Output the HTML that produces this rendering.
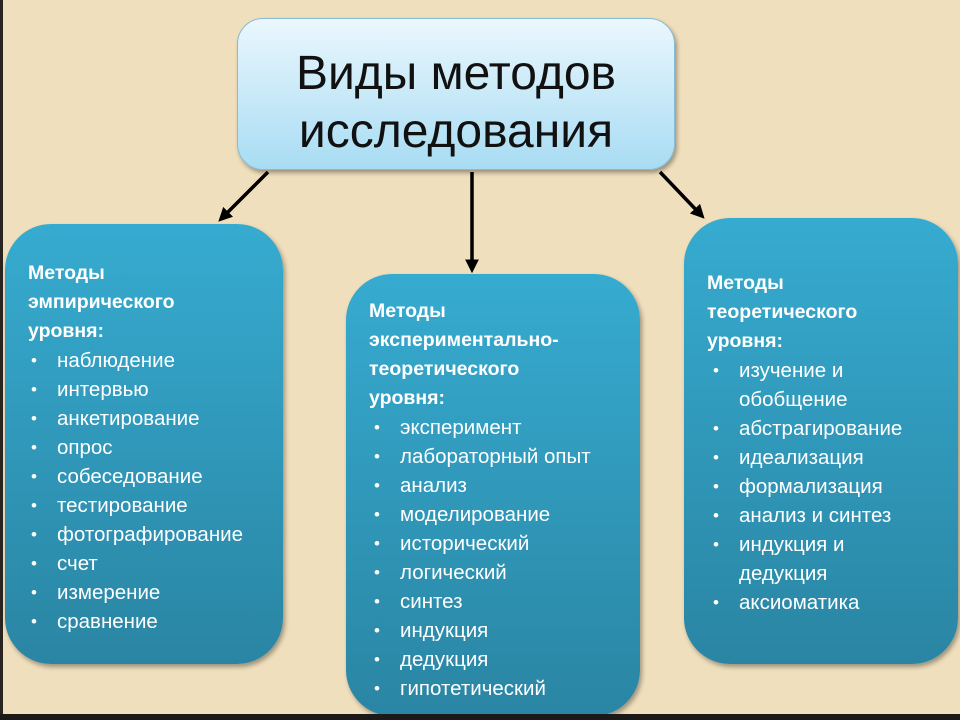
<!DOCTYPE html>
<html><head><meta charset="utf-8"><style>
body{margin:0;width:960px;height:720px;overflow:hidden;background:#f0dfbc;position:relative;font-family:"Liberation Sans","DejaVu Sans",sans-serif}
.edgeL{position:absolute;left:0;top:0;width:3px;height:720px;background:#2a2420}
.edgeB{position:absolute;left:0;top:714px;width:960px;height:6px;background:#1c1a18}
.title{position:absolute;left:237px;top:18px;width:438px;height:152px;border:1px solid #86bcd6;border-radius:26px;background:linear-gradient(#eaf7fd,#a8dcf3);box-shadow:2px 3px 4px rgba(0,0,0,.35);text-align:center;font-size:48px;line-height:58px;color:#111;box-sizing:border-box;padding-top:26px}
.box{position:absolute;border-radius:46px;background:linear-gradient(#36abd0,#2a85a3);box-shadow:2px 3px 5px rgba(0,0,0,.35);color:#fff;font-size:20.5px;line-height:29px}
.box b{display:block;font-size:19.5px}
.box ul{margin:0;padding:0;list-style:none}
.box li{position:relative}
.box li:before{content:"•";position:absolute;left:-26px;font-size:17px}
</style></head><body>
<div class="edgeL"></div>
<div class="title">Виды методов<br>исследования</div>
<svg width="960" height="720" style="position:absolute;left:0;top:0">
<defs><marker id="a" markerWidth="4" markerHeight="4" refX="2.5" refY="2" orient="auto"><path d="M0,0L4,2L0,4z" fill="#000"/></marker></defs>
<g stroke="#000" stroke-width="3.5" marker-end="url(#a)">
<line x1="268" y1="172" x2="222" y2="218"/>
<line x1="472" y1="172" x2="472" y2="268"/>
<line x1="660" y1="172" x2="701" y2="215"/>
</g></svg>
<div class="box" style="left:5px;top:224px;width:278px;height:440px">
<div style="position:absolute;left:23px;top:35px"><b>Методы<br>эмпирического<br>уровня:</b>
<ul style="margin-left:29px"><li>наблюдение</li><li>интервью</li><li>анкетирование</li><li>опрос</li><li>собеседование</li><li>тестирование</li><li>фотографирование</li><li>счет</li><li>измерение</li><li>сравнение</li></ul></div></div>
<div class="box" style="left:346px;top:274px;width:294px;height:442px">
<div style="position:absolute;left:23px;top:23px"><b>Методы<br>экспериментально-<br>теоретического<br>уровня:</b>
<ul style="margin-left:31px"><li>эксперимент</li><li>лабораторный опыт</li><li>анализ</li><li>моделирование</li><li>исторический</li><li>логический</li><li>синтез</li><li>индукция</li><li>дедукция</li><li>гипотетический</li></ul></div></div>
<div class="box" style="left:684px;top:218px;width:274px;height:446px">
<div style="position:absolute;left:23px;top:51px"><b>Методы<br>теоретического<br>уровня:</b>
<ul style="margin-left:32px"><li>изучение и<br>обобщение</li><li>абстрагирование</li><li>идеализация</li><li>формализация</li><li>анализ и синтез</li><li>индукция и<br>дедукция</li><li>аксиоматика</li></ul></div></div>
<div class="edgeB"></div>
</body></html>
